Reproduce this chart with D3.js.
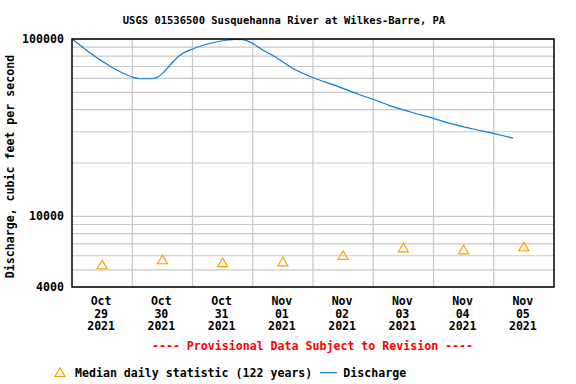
<!DOCTYPE html>
<html>
<head>
<meta charset="utf-8">
<script src="https://cdn.jsdelivr.net/npm/d3@7"></script>
<style>
  body { margin: 0; background: #fff; }
  text { font-family: "DejaVu Sans Mono", monospace; font-weight: bold; }
</style>
</head>
<body>
<div id="main"></div>
<script>
const ctx = {
    SVG_W: 576,
    SVG_H: 384,
    left: 72,
    right: 554,
    top: 39,
    bottom: 287,
};

// hours since Oct 29 2021 00:00 -> discharge (cfs)
const dischargeHours = [0, 4.5, 8.5, 12.5, 16.5, 20.4, 24.4, 27, 31.7, 34.4, 37, 39.7, 43, 48.3, 53.6, 58.9, 62.2, 65, 67.9, 71.9, 75.5, 80.8, 87.5, 96.1, 104.8, 114.1, 120.7, 126.6, 134.6, 143.9, 151.9, 159.8, 167.8, 171.8, 175.7];
const dischargeValues = [100000, 89300, 81000, 74200, 68400, 64100, 60800, 59700, 59700, 61300, 66000, 73000, 81000, 88100, 93400, 97100, 98700, 99500, 99300, 94600, 87500, 79500, 68900, 60500, 54800, 48800, 45300, 42100, 38900, 35700, 33100, 31100, 29400, 28500, 27600];

const medianDays = ["2021-10-29", "2021-10-30", "2021-10-31", "2021-11-01", "2021-11-02", "2021-11-03", "2021-11-04", "2021-11-05"];
const medianValues = [5360, 5720, 5510, 5570, 6060, 6680, 6510, 6770];

const yTickLabels = [4000, 10000, 100000];

const title = "USGS 01536500 Susquehanna River at Wilkes-Barre, PA";

function createViz() {
    const svgEl = d3.select("#main").append("svg")
        .attr("width", ctx.SVG_W)
        .attr("height", ctx.SVG_H);

    svgEl.append("rect").attr("width", ctx.SVG_W).attr("height", ctx.SVG_H).style("fill", "#fff");

    const t0 = new Date(2021, 9, 29);
    const x = d3.scaleTime()
        .domain([t0, new Date(2021, 10, 6)])
        .range([ctx.left, ctx.right]);
    const y = d3.scaleLog()
        .domain([4000, 100000])
        .range([ctx.bottom, ctx.top]);

    // grid
    const grid = svgEl.append("g").style("stroke", "#c8c8c8").style("stroke-width", 1.2);
    grid.selectAll("line.h")
        .data(y.ticks())
        .enter().append("line")
        .attr("x1", ctx.left).attr("x2", ctx.right)
        .attr("y1", d => y(d)).attr("y2", d => y(d));
    grid.selectAll("line.v")
        .data(d3.timeDay.range(d3.timeDay.offset(t0, 1), x.domain()[1]))
        .enter().append("line")
        .attr("x1", d => x(d)).attr("x2", d => x(d))
        .attr("y1", ctx.top).attr("y2", ctx.bottom);

    // median triangles
    const tri = "M0,-4.3L5,4.3L-5,4.3Z";
    svgEl.append("g").selectAll("path")
        .data(medianDays)
        .enter().append("path")
        .attr("d", tri)
        .attr("transform", (d, i) => `translate(${x(d3.timeHour.offset(new Date(d + "T00:00"), 12))},${y(medianValues[i])})`)
        .style("fill", "none")
        .style("stroke", "#ffa000")
        .style("stroke-width", 1.2);

    // discharge line
    const line = d3.line()
        .curve(d3.curveMonotoneX)
        .x(d => x(d3.timeMinute.offset(t0, d * 60)))
        .y((d, i) => y(dischargeValues[i]));
    svgEl.append("path")
        .datum(dischargeHours)
        .attr("d", line)
        .style("fill", "none")
        .style("stroke", "#0a7fd0")
        .style("stroke-width", 1.2);

    // frame
    svgEl.append("rect")
        .attr("x", ctx.left).attr("y", ctx.top)
        .attr("width", ctx.right - ctx.left).attr("height", ctx.bottom - ctx.top)
        .style("fill", "none").style("stroke", "#000").style("stroke-width", 1.5);

    // y tick labels
    svgEl.append("g").selectAll("text")
        .data(yTickLabels)
        .enter().append("text")
        .attr("x", 64)
        .attr("y", d => y(d) + 4)
        .attr("text-anchor", "end")
        .style("font-size", "11.6px")
        .text(d => d);

    // x tick labels
    const xl = svgEl.append("g").selectAll("text")
        .data(medianDays)
        .enter().append("text")
        .attr("text-anchor", "middle")
        .style("font-size", "11.6px");
    const fmts = [d3.timeFormat("%b"), d3.timeFormat("%d"), d3.timeFormat("%Y")];
    fmts.forEach((f, k) => {
        xl.append("tspan")
            .attr("x", d => x(d3.timeHour.offset(new Date(d + "T00:00"), 12)) - 1)
            .attr("y", 305 + k * 12.7)
            .text(d => f(new Date(d + "T00:00")));
    });

    // title
    svgEl.append("text")
        .attr("x", 284).attr("y", 23.5)
        .attr("text-anchor", "middle")
        .style("font-size", "10.5px")
        .text(title);

    // y label
    svgEl.append("text")
        .attr("transform", "translate(14,166.5) rotate(-90)")
        .attr("text-anchor", "middle")
        .style("font-size", "11.6px")
        .text("Discharge, cubic feet per second");

    // provisional
    svgEl.append("text")
        .attr("x", 312.5).attr("y", 349.5)
        .attr("text-anchor", "middle")
        .style("font-size", "11.6px")
        .style("fill", "#ff0000")
        .text("---- Provisional Data Subject to Revision ----");

    // legend
    const lg = svgEl.append("g");
    lg.append("path").attr("d", tri).attr("transform", "translate(60,372.2)")
        .style("fill", "none").style("stroke", "#ffa000").style("stroke-width", 1.2);
    lg.append("text").attr("x", 75).attr("y", 377.3).style("font-size", "11.6px")
        .text("Median daily statistic (122 years)");
    lg.append("line").attr("x1", 320).attr("x2", 337).attr("y1", 372.7).attr("y2", 372.7)
        .style("stroke", "#0a7fd0").style("stroke-width", 1.2);
    lg.append("text").attr("x", 343.3).attr("y", 377.3).style("font-size", "11.6px")
        .text("Discharge");
}

createViz();
</script>
</body>
</html>
